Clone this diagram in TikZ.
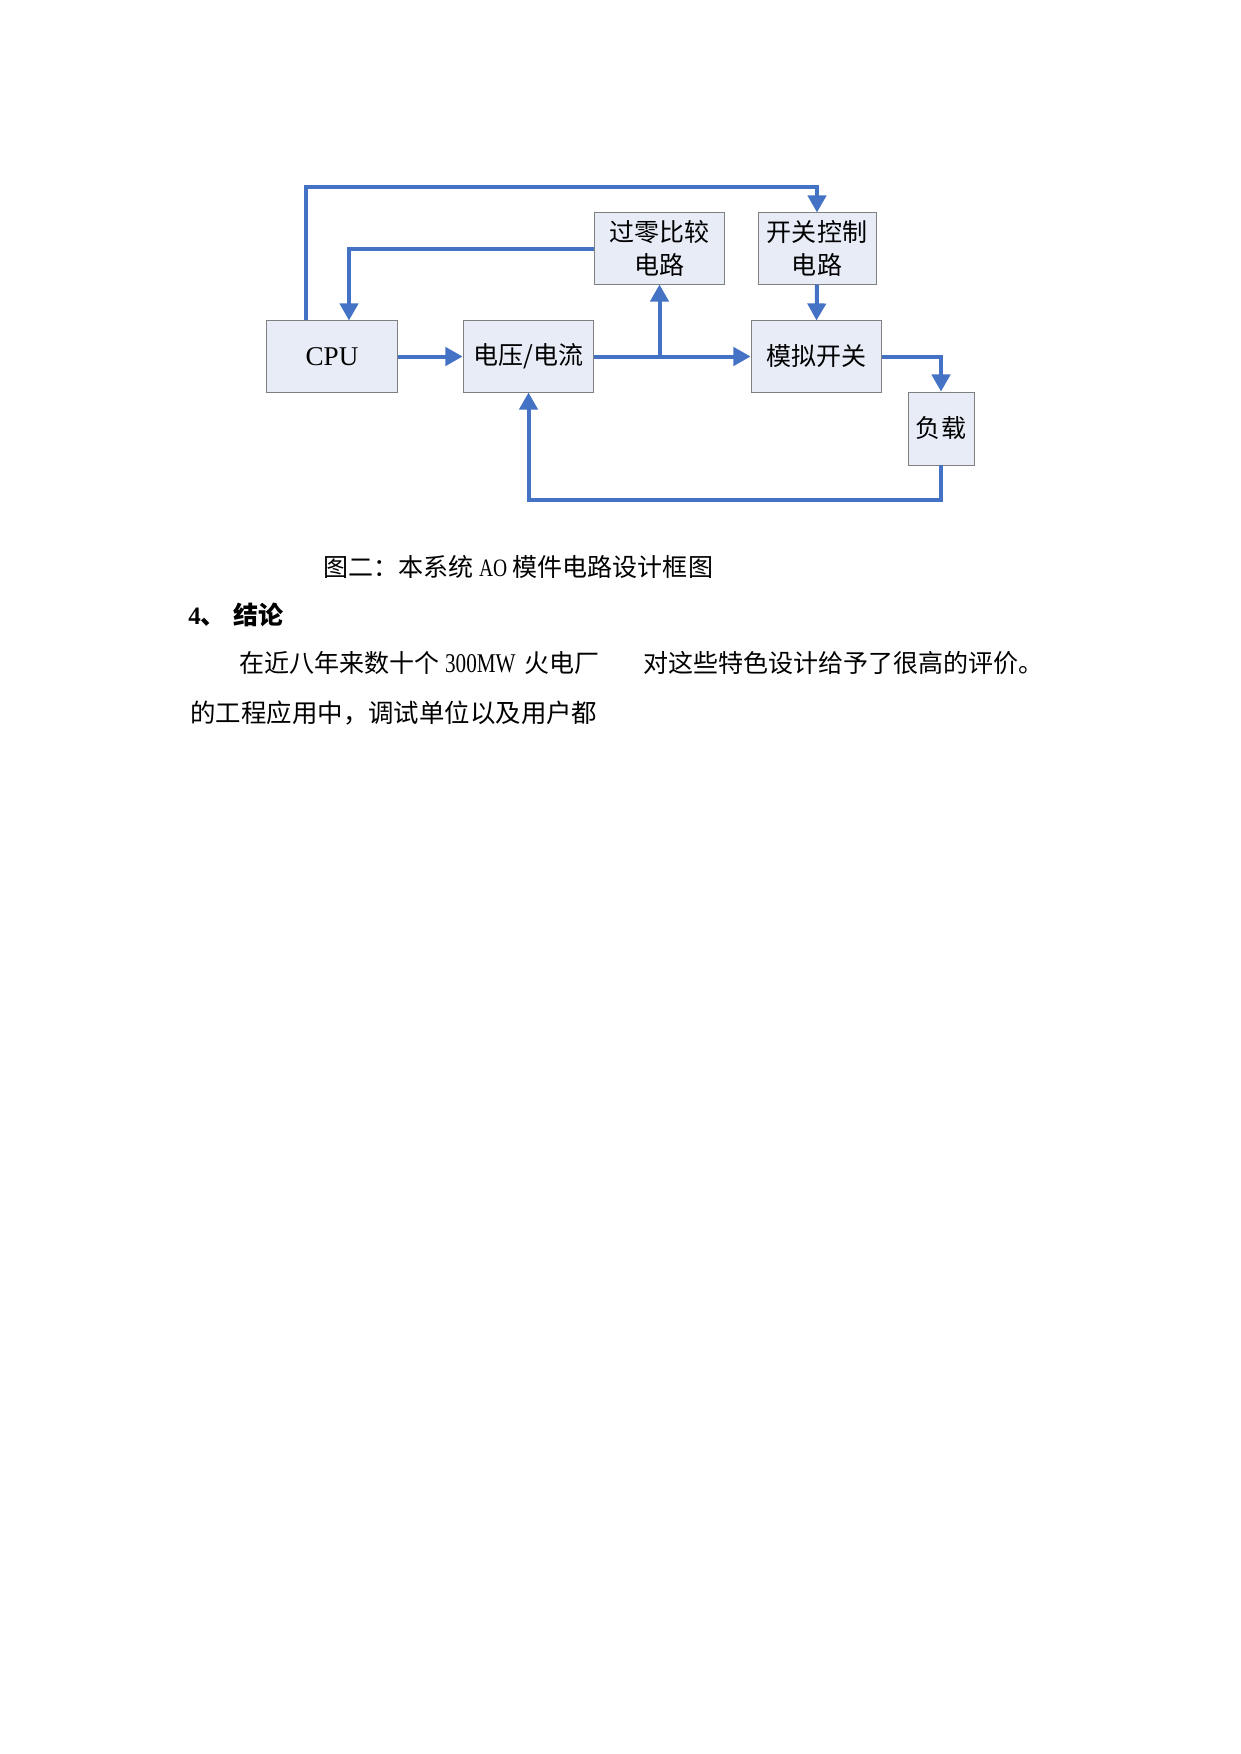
\documentclass[tikz,border=0pt]{standalone}
\usepackage{fontspec}
\setmainfont{Liberation Serif}
\newfontfamily\cjk{Noto Sans CJK SC}
\newfontfamily\narrowlat[FakeStretch=0.78]{Liberation Serif}
\usetikzlibrary{arrows.meta}
\definecolor{flowblue}{HTML}{4472C4}
\definecolor{boxfill}{HTML}{E7ECF7}
\definecolor{boxline}{HTML}{808080}
\begin{document}
\begin{tikzpicture}[x=0.4797pt,y=-0.4797pt,
  blk/.style={draw=boxline, fill=boxfill, line width=0.45pt, inner sep=0pt,
    align=center, font=\cjk\fontsize{12}{15.8}\selectfont},
  flow/.style={draw=flowblue, line width=1.92pt, line join=miter,
    -{Triangle[length=8.2pt,width=8.7pt]}},
  txt/.style={anchor=west, inner sep=0pt, font=\cjk\fontsize{12}{14}\selectfont}]
\useasboundingbox[fill=white] (0,0) rectangle (1241,1754);

% blocks
\node[blk, minimum width=62.4pt, minimum height=34.1pt] (cpu) at (332,356.5)
  {\rmfamily\fontsize{13}{15}\selectfont CPU};
\node[blk, minimum width=62.8pt, minimum height=34.1pt] (vi) at (528.5,356.5) {电压/电流};
\node[blk, minimum width=62.8pt, minimum height=34.1pt] (zc) at (659.5,248.5) {过零比较\\电路};
\node[blk, minimum width=56.6pt, minimum height=34.1pt] (sc) at (817,248.5) {开关控制\\电路};
\node[blk, minimum width=62.8pt, minimum height=34.1pt] (as) at (816.5,356.5) {模拟开关};
\node[blk, minimum width=31.7pt, minimum height=35.0pt] (load) at (941,428.5) {负载};

% helper coordinates
\coordinate (t1) at (306,187);
\coordinate (t2) at (349,249);

% connectors
\draw[flow] (cpu.north -| t1) -- (t1) -| (sc.north);
\draw[flow] (zc.west) -| (cpu.north -| t2);
\draw[flow] (cpu.east) -- (vi.west);
\draw[flow] (vi.east) -- (as.west);
\draw[flow] (vi.east -| zc.south) -- (zc.south);
\draw[flow] (sc.south) -- (as.north);
\draw[flow] (as.east) -| (load.north);
\draw[flow] (load.south) -- ++(0,35) -| (vi.south);

% caption and text
\node[txt] (cap) at (323,567) {图二：本系统 {\narrowlat AO} 模件电路设计框图};
\node[txt, font=\fontsize{12}{14}\selectfont] (head) at (188,614.5)
  {{\bfseries 4}{\cjk\bfseries 、\hspace{0.3em}结论}};
\node[txt] (p1a) at (239,663) {在近八年来数十个 {\narrowlat\fontsize{13}{14}\selectfont 300MW}\hspace{0.15em} 火电厂};
\node[txt] (p1b) at (643,663) {对这些特色设计给予了很高的评价。};
\node[txt, font=\cjk\fontsize{12.2}{14}\selectfont] (p2) at (190,713) {的工程应用中，调试单位以及用户都};
\end{tikzpicture}
\end{document}
